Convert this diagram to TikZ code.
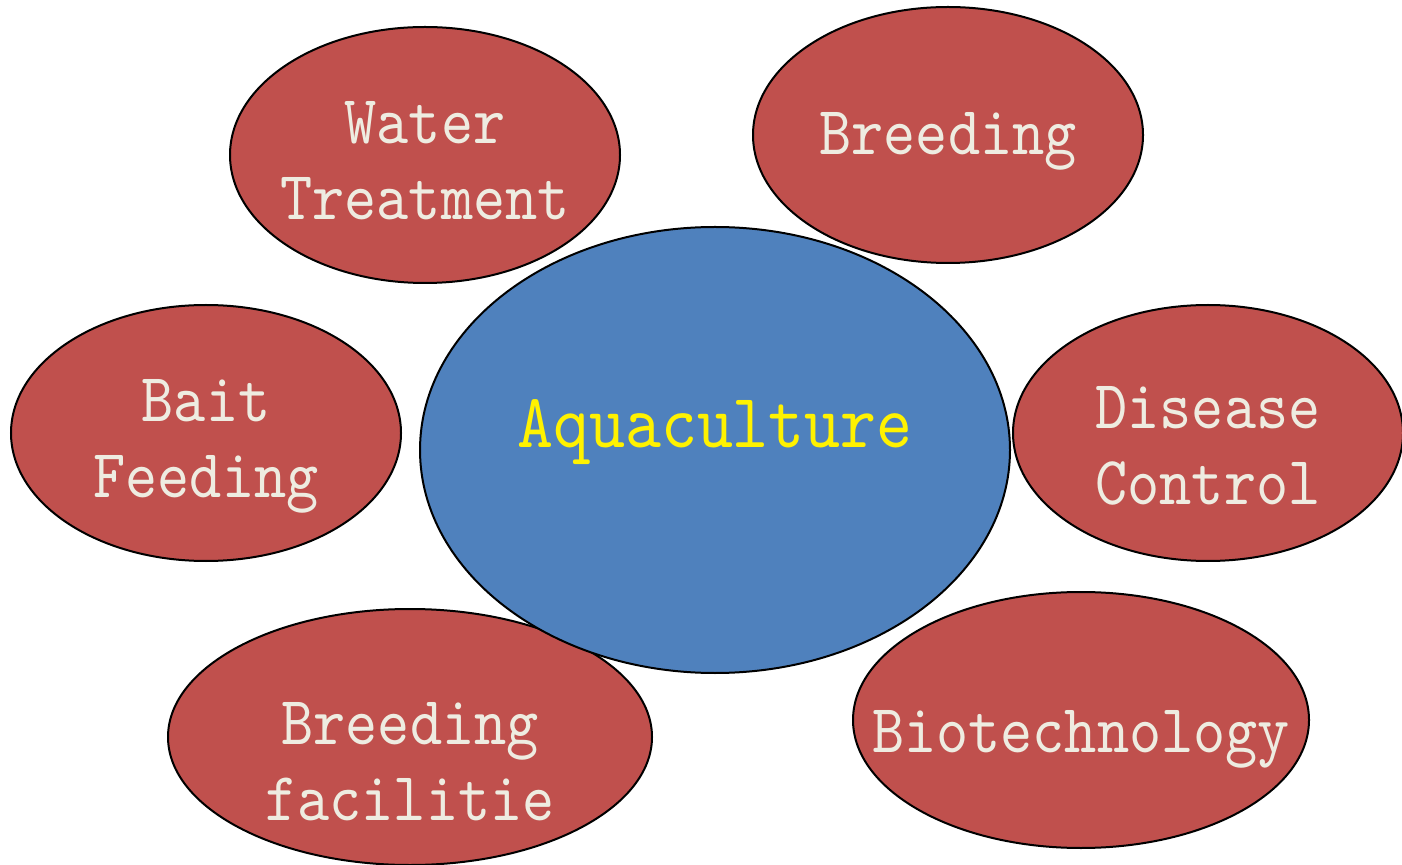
\documentclass[tikz,border=0pt]{standalone}
\usepackage{fontspec}
\usepackage{xcolor}
\usetikzlibrary{shapes.geometric}
\newfontfamily\labelfont[FakeStretch=0.89]{lmmono10-regular.otf}
\definecolor{topicred}{HTML}{C0504D}
\definecolor{hubblue}{HTML}{4F81BD}
\definecolor{labelcream}{HTML}{EEECE1}

\begin{document}
\begin{tikzpicture}[x=0.5pt, y=-0.5pt,
    topic/.style={ellipse, draw=black, line width=1pt, fill=topicred,
                  inner sep=0pt, minimum width=195pt, minimum height=128pt},
    hub/.style={ellipse, draw=black, line width=1pt, fill=hubblue,
                inner sep=0pt, minimum width=295pt, minimum height=223pt},
    topictext/.style={anchor=base, align=center, text=labelcream,
                      font=\labelfont\fontsize{34.4}{38}\selectfont},
    hubtext/.style={anchor=base, align=center, text=yellow,
                    font=\labelfont\fontsize{38.5}{42}\selectfont}]
    \useasboundingbox (0,0) rectangle (1402,865);

    % outer topics
    \node[topic] (water) at (425,155) {};
    \node[topic] (breed) at (948,135) {};
    \node[topic] (bait) at (206,433) {};
    \node[topic] (disease) at (1208,433) {};
    \node[topic, minimum width=242pt] (facil) at (410,737) {};
    \node[topic, minimum width=228pt] (biotech) at (1081,720) {};

    % centre
    \node[hub] (aqua) at (715,450) {};

    % labels (base = last line)
    \node[topictext, yshift=-32.5pt] (waterText) at (water.center) {Water\\Treatment};
    \node[topictext, yshift=-10pt] (breedText) at (breed.center) {Breeding};
    \node[topictext, yshift=-32.5pt] (baitText) at (bait.center) {Bait\\Feeding};
    \node[topictext, yshift=-36pt] (diseaseText) at (disease.center) {Disease\\Control};
    \node[topictext, yshift=-41.5pt] (facilText) at (facil.center) {Breeding\\facilitie};
    \node[topictext, yshift=-16pt] (biotechText) at (biotech.center) {Biotechnology};
    \node[hubtext, yshift=1pt] (aquaText) at (aqua.center) {Aquaculture};
\end{tikzpicture}
\end{document}
